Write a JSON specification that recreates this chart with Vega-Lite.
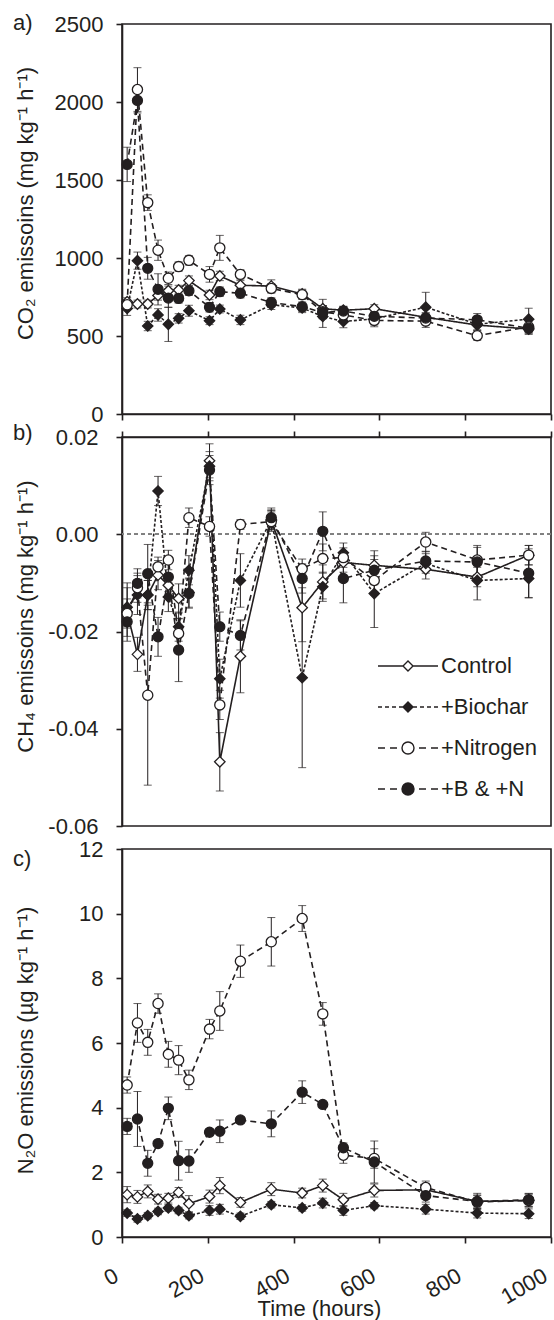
{
  "$schema": "https://vega.github.io/schema/vega-lite/v6.json",
  "background": "white",
  "padding": {"left": 12, "top": 11, "right": 3, "bottom": 0},
  "bounds": "flush",
  "spacing": 23,
  "datasets": {
    "co2": [
      {"t":12,"s":"Control","v":720,"e":25},{"t":36,"s":"Control","v":705,"e":25},{"t":60,"s":"Control","v":705,"e":25},{"t":84,"s":"Control","v":760,"e":30},{"t":108,"s":"Control","v":790,"e":30},{"t":132,"s":"Control","v":795,"e":30},{"t":156,"s":"Control","v":855,"e":30},{"t":204,"s":"Control","v":763,"e":30},{"t":228,"s":"Control","v":885,"e":30},{"t":276,"s":"Control","v":825,"e":30},{"t":348,"s":"Control","v":820,"e":40},{"t":420,"s":"Control","v":770,"e":30},{"t":468,"s":"Control","v":675,"e":60},{"t":516,"s":"Control","v":665,"e":25},{"t":588,"s":"Control","v":675,"e":25},{"t":708,"s":"Control","v":620,"e":30},{"t":828,"s":"Control","v":570,"e":30},{"t":948,"s":"Control","v":545,"e":25},
      {"t":12,"s":"+Biochar","v":677,"e":45},{"t":36,"s":"+Biochar","v":983,"e":55},{"t":60,"s":"+Biochar","v":564,"e":30},{"t":84,"s":"+Biochar","v":635,"e":40},{"t":108,"s":"+Biochar","v":575,"e":110},{"t":132,"s":"+Biochar","v":613,"e":30},{"t":156,"s":"+Biochar","v":662,"e":35},{"t":204,"s":"+Biochar","v":598,"e":25},{"t":228,"s":"+Biochar","v":673,"e":25},{"t":276,"s":"+Biochar","v":603,"e":30},{"t":348,"s":"+Biochar","v":700,"e":30},{"t":420,"s":"+Biochar","v":680,"e":30},{"t":468,"s":"+Biochar","v":625,"e":70},{"t":516,"s":"+Biochar","v":593,"e":40},{"t":588,"s":"+Biochar","v":610,"e":40},{"t":708,"s":"+Biochar","v":685,"e":95},{"t":828,"s":"+Biochar","v":575,"e":40},{"t":948,"s":"+Biochar","v":608,"e":70},
      {"t":12,"s":"+Nitrogen","v":700,"e":30},{"t":36,"s":"+Nitrogen","v":2080,"e":140},{"t":60,"s":"+Nitrogen","v":1355,"e":50},{"t":84,"s":"+Nitrogen","v":1050,"e":65},{"t":108,"s":"+Nitrogen","v":870,"e":40},{"t":132,"s":"+Nitrogen","v":945,"e":30},{"t":156,"s":"+Nitrogen","v":985,"e":30},{"t":204,"s":"+Nitrogen","v":895,"e":50},{"t":228,"s":"+Nitrogen","v":1065,"e":80},{"t":276,"s":"+Nitrogen","v":895,"e":30},{"t":348,"s":"+Nitrogen","v":805,"e":30},{"t":420,"s":"+Nitrogen","v":765,"e":30},{"t":468,"s":"+Nitrogen","v":655,"e":40},{"t":516,"s":"+Nitrogen","v":635,"e":30},{"t":588,"s":"+Nitrogen","v":600,"e":40},{"t":708,"s":"+Nitrogen","v":595,"e":40},{"t":828,"s":"+Nitrogen","v":502,"e":30},{"t":948,"s":"+Nitrogen","v":558,"e":40},
      {"t":12,"s":"+B & +N","v":1600,"e":110},{"t":36,"s":"+B & +N","v":2010,"e":80},{"t":60,"s":"+B & +N","v":934,"e":70},{"t":84,"s":"+B & +N","v":799,"e":100},{"t":108,"s":"+B & +N","v":743,"e":60},{"t":132,"s":"+B & +N","v":741,"e":30},{"t":156,"s":"+B & +N","v":790,"e":30},{"t":204,"s":"+B & +N","v":684,"e":30},{"t":228,"s":"+B & +N","v":784,"e":30},{"t":276,"s":"+B & +N","v":774,"e":30},{"t":348,"s":"+B & +N","v":715,"e":30},{"t":420,"s":"+B & +N","v":688,"e":30},{"t":468,"s":"+B & +N","v":650,"e":40},{"t":516,"s":"+B & +N","v":660,"e":30},{"t":588,"s":"+B & +N","v":626,"e":30},{"t":708,"s":"+B & +N","v":615,"e":30},{"t":828,"s":"+B & +N","v":604,"e":40},{"t":948,"s":"+B & +N","v":550,"e":40}
    ],
    "ch4": [
      {"t":12,"s":"Control","v":-0.016,"e":0.006},{"t":36,"s":"Control","v":-0.0247,"e":0.0035},{"t":60,"s":"Control","v":-0.0125,"e":0.003},{"t":84,"s":"Control","v":-0.0084,"e":0.003},{"t":108,"s":"Control","v":-0.0105,"e":0.002},{"t":132,"s":"Control","v":-0.0132,"e":0.003},{"t":156,"s":"Control","v":-0.012,"e":0.003},{"t":204,"s":"Control","v":0.0151,"e":0.0035},{"t":228,"s":"Control","v":-0.0468,"e":0.006},{"t":276,"s":"Control","v":-0.0251,"e":0.0075},{"t":348,"s":"Control","v":0.0029,"e":0.002},{"t":420,"s":"Control","v":-0.0151,"e":0.007},{"t":468,"s":"Control","v":-0.0098,"e":0.0035},{"t":516,"s":"Control","v":-0.0058,"e":0.002},{"t":588,"s":"Control","v":-0.0064,"e":0.003},{"t":708,"s":"Control","v":-0.0072,"e":0.002},{"t":828,"s":"Control","v":-0.0088,"e":0.002},{"t":948,"s":"Control","v":-0.0043,"e":0.002},
      {"t":12,"s":"+Biochar","v":-0.015,"e":0.004},{"t":36,"s":"+Biochar","v":-0.0125,"e":0.004},{"t":60,"s":"+Biochar","v":-0.0125,"e":0.003},{"t":84,"s":"+Biochar","v":0.0089,"e":0.003},{"t":108,"s":"+Biochar","v":-0.0129,"e":0.003},{"t":132,"s":"+Biochar","v":-0.019,"e":0.003},{"t":156,"s":"+Biochar","v":-0.0074,"e":0.003},{"t":204,"s":"+Biochar","v":0.014,"e":0.003},{"t":228,"s":"+Biochar","v":-0.0297,"e":0.004},{"t":276,"s":"+Biochar","v":-0.0095,"e":0.0055},{"t":348,"s":"+Biochar","v":0.003,"e":0.002},{"t":420,"s":"+Biochar","v":-0.0295,"e":0.0185},{"t":468,"s":"+Biochar","v":-0.0108,"e":0.003},{"t":516,"s":"+Biochar","v":-0.0038,"e":0.002},{"t":588,"s":"+Biochar","v":-0.0122,"e":0.007},{"t":708,"s":"+Biochar","v":-0.006,"e":0.002},{"t":828,"s":"+Biochar","v":-0.0095,"e":0.004},{"t":948,"s":"+Biochar","v":-0.0091,"e":0.004},
      {"t":12,"s":"+Nitrogen","v":-0.0163,"e":0.003},{"t":36,"s":"+Nitrogen","v":-0.011,"e":0.003},{"t":60,"s":"+Nitrogen","v":-0.0331,"e":0.0185},{"t":84,"s":"+Nitrogen","v":-0.0067,"e":0.002},{"t":108,"s":"+Nitrogen","v":-0.0053,"e":0.002},{"t":132,"s":"+Nitrogen","v":-0.0204,"e":0.003},{"t":156,"s":"+Nitrogen","v":0.0034,"e":0.002},{"t":204,"s":"+Nitrogen","v":0.0016,"e":0.002},{"t":228,"s":"+Nitrogen","v":-0.0351,"e":0.003},{"t":276,"s":"+Nitrogen","v":0.002,"e":0.001},{"t":348,"s":"+Nitrogen","v":0.0026,"e":0.002},{"t":420,"s":"+Nitrogen","v":-0.0071,"e":0.002},{"t":468,"s":"+Nitrogen","v":-0.005,"e":0.003},{"t":516,"s":"+Nitrogen","v":-0.0048,"e":0.002},{"t":588,"s":"+Nitrogen","v":-0.0095,"e":0.003},{"t":708,"s":"+Nitrogen","v":-0.0016,"e":0.002},{"t":828,"s":"+Nitrogen","v":-0.0053,"e":0.003},{"t":948,"s":"+Nitrogen","v":-0.0043,"e":0.002},
      {"t":12,"s":"+B & +N","v":-0.018,"e":0.003},{"t":36,"s":"+B & +N","v":-0.0101,"e":0.003},{"t":60,"s":"+B & +N","v":-0.0081,"e":0.006},{"t":84,"s":"+B & +N","v":-0.0211,"e":0.004},{"t":108,"s":"+B & +N","v":-0.0088,"e":0.003},{"t":132,"s":"+B & +N","v":-0.0238,"e":0.0065},{"t":156,"s":"+B & +N","v":-0.0122,"e":0.003},{"t":204,"s":"+B & +N","v":0.0132,"e":0.003},{"t":228,"s":"+B & +N","v":-0.019,"e":0.003},{"t":276,"s":"+B & +N","v":-0.0208,"e":0.003},{"t":348,"s":"+B & +N","v":0.0034,"e":0.002},{"t":420,"s":"+B & +N","v":-0.0091,"e":0.003},{"t":468,"s":"+B & +N","v":0.0006,"e":0.004},{"t":516,"s":"+B & +N","v":-0.0091,"e":0.005},{"t":588,"s":"+B & +N","v":-0.0074,"e":0.003},{"t":708,"s":"+B & +N","v":-0.0055,"e":0.002},{"t":828,"s":"+B & +N","v":-0.0057,"e":0.003},{"t":948,"s":"+B & +N","v":-0.008,"e":0.005}
    ],
    "n2o": [
      {"t":12,"s":"Control","v":1.31,"e":0.25},{"t":36,"s":"Control","v":1.24,"e":0.2},{"t":60,"s":"Control","v":1.41,"e":0.2},{"t":84,"s":"Control","v":1.17,"e":0.15},{"t":108,"s":"Control","v":1.2,"e":0.15},{"t":132,"s":"Control","v":1.38,"e":0.15},{"t":156,"s":"Control","v":1.03,"e":0.25},{"t":204,"s":"Control","v":1.25,"e":0.2},{"t":228,"s":"Control","v":1.59,"e":0.25},{"t":276,"s":"Control","v":1.07,"e":0.15},{"t":348,"s":"Control","v":1.48,"e":0.2},{"t":420,"s":"Control","v":1.36,"e":0.15},{"t":468,"s":"Control","v":1.59,"e":0.2},{"t":516,"s":"Control","v":1.15,"e":0.2},{"t":588,"s":"Control","v":1.44,"e":0.2},{"t":708,"s":"Control","v":1.46,"e":0.2},{"t":828,"s":"Control","v":1.1,"e":0.2},{"t":948,"s":"Control","v":1.13,"e":0.2},
      {"t":12,"s":"+Biochar","v":0.74,"e":0.1},{"t":36,"s":"+Biochar","v":0.56,"e":0.1},{"t":60,"s":"+Biochar","v":0.66,"e":0.1},{"t":84,"s":"+Biochar","v":0.79,"e":0.1},{"t":108,"s":"+Biochar","v":0.9,"e":0.1},{"t":132,"s":"+Biochar","v":0.82,"e":0.1},{"t":156,"s":"+Biochar","v":0.66,"e":0.1},{"t":204,"s":"+Biochar","v":0.82,"e":0.15},{"t":228,"s":"+Biochar","v":0.86,"e":0.15},{"t":276,"s":"+Biochar","v":0.64,"e":0.1},{"t":348,"s":"+Biochar","v":1.0,"e":0.1},{"t":420,"s":"+Biochar","v":0.9,"e":0.1},{"t":468,"s":"+Biochar","v":1.05,"e":0.15},{"t":516,"s":"+Biochar","v":0.82,"e":0.15},{"t":588,"s":"+Biochar","v":0.97,"e":0.1},{"t":708,"s":"+Biochar","v":0.86,"e":0.15},{"t":828,"s":"+Biochar","v":0.74,"e":0.15},{"t":948,"s":"+Biochar","v":0.72,"e":0.15},
      {"t":12,"s":"+Nitrogen","v":4.7,"e":0.25},{"t":36,"s":"+Nitrogen","v":6.62,"e":0.6},{"t":60,"s":"+Nitrogen","v":6.02,"e":0.4},{"t":84,"s":"+Nitrogen","v":7.22,"e":0.3},{"t":108,"s":"+Nitrogen","v":5.65,"e":0.4},{"t":132,"s":"+Nitrogen","v":5.47,"e":0.45},{"t":156,"s":"+Nitrogen","v":4.86,"e":0.3},{"t":204,"s":"+Nitrogen","v":6.43,"e":0.3},{"t":228,"s":"+Nitrogen","v":6.99,"e":0.6},{"t":276,"s":"+Nitrogen","v":8.53,"e":0.5},{"t":348,"s":"+Nitrogen","v":9.13,"e":0.75},{"t":420,"s":"+Nitrogen","v":9.85,"e":0.4},{"t":468,"s":"+Nitrogen","v":6.9,"e":0.35},{"t":516,"s":"+Nitrogen","v":2.53,"e":0.25},{"t":588,"s":"+Nitrogen","v":2.43,"e":0.3},{"t":708,"s":"+Nitrogen","v":1.53,"e":0.2},{"t":828,"s":"+Nitrogen","v":1.08,"e":0.2},{"t":948,"s":"+Nitrogen","v":1.13,"e":0.2},
      {"t":12,"s":"+B & +N","v":3.42,"e":0.25},{"t":36,"s":"+B & +N","v":3.65,"e":0.85},{"t":60,"s":"+B & +N","v":2.28,"e":0.4},{"t":84,"s":"+B & +N","v":2.89,"e":0.05},{"t":108,"s":"+B & +N","v":3.98,"e":0.35},{"t":132,"s":"+B & +N","v":2.36,"e":0.6},{"t":156,"s":"+B & +N","v":2.35,"e":0.35},{"t":204,"s":"+B & +N","v":3.24,"e":0.1},{"t":228,"s":"+B & +N","v":3.27,"e":0.35},{"t":276,"s":"+B & +N","v":3.62,"e":0.1},{"t":348,"s":"+B & +N","v":3.5,"e":0.4},{"t":420,"s":"+B & +N","v":4.48,"e":0.35},{"t":468,"s":"+B & +N","v":4.1,"e":0.05},{"t":516,"s":"+B & +N","v":2.76,"e":0.15},{"t":588,"s":"+B & +N","v":2.32,"e":0.65},{"t":708,"s":"+B & +N","v":1.28,"e":0.2},{"t":828,"s":"+B & +N","v":1.1,"e":0.25},{"t":948,"s":"+B & +N","v":1.15,"e":0.2}
    ]
  },
  "vconcat": [
    {
      "width": 429, "height": 390,
      "data": {"name": "co2"},
      "title": {"text": "a)", "anchor": "start", "frame": "group", "align": "left", "baseline": "alphabetic", "offset": 0, "dx": -109, "dy": 39, "fontSize": 22, "fontWeight": "normal", "font": "Liberation Sans", "color": "#231f20"},
      "layer": [
        {"mark": {"type": "errorbar", "ticks": {"size": 8, "thickness": 1}, "thickness": 1, "color": "#231f20"},
         "encoding": {"x": {"field": "t", "type": "quantitative", "title": null}, "y": {"field": "v", "type": "quantitative", "title": "CO₂ emissoins (mg kg⁻¹ h⁻¹)"}, "yError": {"field": "e"}}},
        {"mark": {"type": "line", "color": "#231f20", "strokeWidth": 1.6},
         "encoding": {
           "x": {"field": "t", "type": "quantitative", "title": null, "scale": {"domain": [0, 1000], "nice": false}, "axis": {"orient": "bottom", "values": [0,200,400,600,800,1000], "labels": false}},
           "y": {"field": "v", "type": "quantitative", "title": "CO₂ emissoins (mg kg⁻¹ h⁻¹)", "scale": {"domain": [0, 2500], "nice": false}, "axis": {"values": [0,500,1000,1500,2000,2500], "format": "d", "labelPadding": 13, "titleX": -90, "titleY": 179, "titleAngle": 270, "titleBaseline": "alphabetic", "titleAlign": "center"}},
           "detail": {"field": "s"},
           "strokeDash": {"field": "s", "type": "nominal", "scale": {"domain": ["Control","+Biochar","+Nitrogen","+B & +N"], "range": [[1,0],[3,2],[6,4],[6,4]]}, "legend": null}
         }},
        {"mark": {"type": "point", "filled": true, "stroke": "#231f20", "strokeWidth": 1.3, "opacity": 1},
         "encoding": {
           "x": {"field": "t", "type": "quantitative", "title": null},
           "y": {"field": "v", "type": "quantitative", "title": "CO₂ emissoins (mg kg⁻¹ h⁻¹)"},
           "shape": {"field": "s", "type": "nominal", "scale": {"domain": ["Control","+Biochar","+Nitrogen","+B & +N"], "range": ["diamond","diamond","circle","circle"]}, "legend": null},
           "fill": {"field": "s", "type": "nominal", "scale": {"domain": ["Control","+Biochar","+Nitrogen","+B & +N"], "range": ["white","#231f20","white","#231f20"]}, "legend": null},
           "size": {"field": "s", "type": "nominal", "scale": {"domain": ["Control","+Biochar","+Nitrogen","+B & +N"], "range": [110,100,150,140]}, "legend": null}
         }}
      ]
    },
    {
      "width": 429, "height": 389,
      "data": {"name": "ch4"},
      "title": {"text": "b)", "anchor": "start", "frame": "group", "align": "left", "baseline": "alphabetic", "offset": 0, "dx": -109, "dy": 36, "fontSize": 22, "fontWeight": "normal", "font": "Liberation Sans", "color": "#231f20"},
      "resolve": {"scale": {"shape": "independent", "fill": "independent", "size": "independent", "strokeDash": "independent"}},
      "layer": [
        {"mark": {"type": "rule", "color": "#808080", "strokeDash": [4,3], "strokeWidth": 1},
         "encoding": {"y": {"datum": 0}}},
        {"mark": {"type": "errorbar", "ticks": {"size": 8, "thickness": 1}, "thickness": 1, "color": "#231f20"},
         "encoding": {"x": {"field": "t", "type": "quantitative", "title": null}, "y": {"field": "v", "type": "quantitative", "title": "CH₄ emissoins (mg kg⁻¹ h⁻¹)"}, "yError": {"field": "e"}}},
        {"mark": {"type": "line", "color": "#231f20", "strokeWidth": 1.6},
         "encoding": {
           "x": {"field": "t", "type": "quantitative", "title": null, "scale": {"domain": [0, 1000], "nice": false}, "axis": {"orient": "top", "values": [0,200,400,600,800,1000], "labels": false}},
           "y": {"field": "v", "type": "quantitative", "title": "CH₄ emissoins (mg kg⁻¹ h⁻¹)", "scale": {"domain": [-0.06, 0.02], "nice": false}, "axis": {"values": [-0.06,-0.04,-0.02,0,0.02], "labelExpr": "replace(format(datum.value, '.2f'), '\u2212', '-')", "labelPadding": 18, "titleX": -90, "titleY": 179, "titleAngle": 270, "titleBaseline": "alphabetic", "titleAlign": "center"}},
           "detail": {"field": "s"},
           "strokeDash": {"field": "s", "type": "nominal", "scale": {"domain": ["Control","+Biochar","+Nitrogen","+B & +N"], "range": [[1,0],[3,2],[6,4],[6,4]]}, "legend": null}
         }},
        {"mark": {"type": "point", "filled": true, "stroke": "#231f20", "strokeWidth": 1.3, "opacity": 1},
         "encoding": {
           "x": {"field": "t", "type": "quantitative", "title": null},
           "y": {"field": "v", "type": "quantitative", "title": "CH₄ emissoins (mg kg⁻¹ h⁻¹)"},
           "shape": {"field": "s", "type": "nominal", "scale": {"domain": ["Control","+Biochar","+Nitrogen","+B & +N"], "range": ["diamond","diamond","circle","circle"]}, "legend": null},
           "fill": {"field": "s", "type": "nominal", "scale": {"domain": ["Control","+Biochar","+Nitrogen","+B & +N"], "range": ["white","#231f20","white","#231f20"]}, "legend": null},
           "size": {"field": "s", "type": "nominal", "scale": {"domain": ["Control","+Biochar","+Nitrogen","+B & +N"], "range": [110,100,150,140]}, "legend": null}
         }},
        {"transform": [{"filter": "datum.t < 0"}],
         "mark": {"type": "point", "filled": true, "stroke": "#231f20", "strokeWidth": 1.4, "opacity": 1, "size": 100},
         "encoding": {
           "x": {"field": "t", "type": "quantitative", "title": null},
           "y": {"field": "v", "type": "quantitative", "title": "CH₄ emissoins (mg kg⁻¹ h⁻¹)"},
           "shape": {"field": "s", "type": "nominal", "scale": {"domain": ["Control","+Biochar","+Nitrogen","+B & +N"], "range": [
               "M-6,0L-1,0M1,0L6,0M-1,0L0,-1L1,0L0,1Z",
               "M-6,0L-5.2,0M-4.6,0L-3.8,0M-3.2,0L-2.4,0M-1.8,0L-1,0M1,0L1.8,0M2.4,0L3.2,0M3.8,0L4.6,0M5.2,0L6,0M-1,0L0,-1L1,0L0,1Z",
               "M-6,0L-4.6,0M-3.6,0L-2.2,0M2.2,0L3.6,0M4.6,0L6,0M1.2,0A1.2,1.2,0,1,1,-1.2,0A1.2,1.2,0,1,1,1.2,0Z",
               "M-6,0L-4.6,0M-3.6,0L-2.2,0M2.2,0L3.6,0M4.6,0L6,0M1.2,0A1.2,1.2,0,1,1,-1.2,0A1.2,1.2,0,1,1,1.2,0Z"]},
             "legend": {"orient": "none", "legendX": 275, "legendY": 218, "title": null, "padding": 0, "rowPadding": 19, "labelOffset": 22, "labelFont": "Liberation Sans", "labelFontSize": 22, "labelColor": "#231f20", "symbolSize": 100, "symbolStrokeWidth": 1.4, "symbolOpacity": 1}},
           "fill": {"field": "s", "type": "nominal", "scale": {"domain": ["Control","+Biochar","+Nitrogen","+B & +N"], "range": ["white","#231f20","white","#231f20"]},
             "legend": {"orient": "none", "legendX": 275, "legendY": 218, "title": null, "padding": 0, "rowPadding": 19, "labelOffset": 22, "labelFont": "Liberation Sans", "labelFontSize": 22, "labelColor": "#231f20", "symbolSize": 100, "symbolStrokeWidth": 1.4, "symbolOpacity": 1}}
         }}
      ]
    },
    {
      "width": 429, "height": 388,
      "data": {"name": "n2o"},
      "title": {"text": "c)", "anchor": "start", "frame": "group", "align": "left", "baseline": "alphabetic", "offset": 0, "dx": -109, "dy": 50, "fontSize": 22, "fontWeight": "normal", "font": "Liberation Sans", "color": "#231f20"},
      "layer": [
        {"mark": {"type": "errorbar", "ticks": {"size": 8, "thickness": 1}, "thickness": 1, "color": "#231f20"},
         "encoding": {"x": {"field": "t", "type": "quantitative", "title": "Time (hours)"}, "y": {"field": "v", "type": "quantitative", "title": "N₂O emissions (µg kg⁻¹ h⁻¹)"}, "yError": {"field": "e"}}},
        {"mark": {"type": "line", "color": "#231f20", "strokeWidth": 1.6},
         "encoding": {
           "x": {"field": "t", "type": "quantitative", "title": "Time (hours)", "scale": {"domain": [0, 1000], "nice": false}, "axis": {"orient": "bottom", "values": [0,200,400,600,800,1000], "format": "d", "labelAngle": -30, "labelAlign": "right", "labelBaseline": "bottom", "labelPadding": 41, "titleX": 197, "titleY": 78, "titleBaseline": "alphabetic", "titleAlign": "center"}},
           "y": {"field": "v", "type": "quantitative", "title": "N₂O emissions (µg kg⁻¹ h⁻¹)", "scale": {"domain": [0, 12], "nice": false}, "axis": {"values": [0,2,4,6,8,10,12], "labelPadding": 13, "titleX": -90, "titleY": 191, "titleAngle": 270, "titleBaseline": "alphabetic", "titleAlign": "center"}},
           "detail": {"field": "s"},
           "strokeDash": {"field": "s", "type": "nominal", "scale": {"domain": ["Control","+Biochar","+Nitrogen","+B & +N"], "range": [[1,0],[3,2],[6,4],[6,4]]}, "legend": null}
         }},
        {"mark": {"type": "point", "filled": true, "stroke": "#231f20", "strokeWidth": 1.3, "opacity": 1},
         "encoding": {
           "x": {"field": "t", "type": "quantitative", "title": "Time (hours)"},
           "y": {"field": "v", "type": "quantitative", "title": "N₂O emissions (µg kg⁻¹ h⁻¹)"},
           "shape": {"field": "s", "type": "nominal", "scale": {"domain": ["Control","+Biochar","+Nitrogen","+B & +N"], "range": ["diamond","diamond","circle","circle"]}, "legend": null},
           "fill": {"field": "s", "type": "nominal", "scale": {"domain": ["Control","+Biochar","+Nitrogen","+B & +N"], "range": ["white","#231f20","white","#231f20"]}, "legend": null},
           "size": {"field": "s", "type": "nominal", "scale": {"domain": ["Control","+Biochar","+Nitrogen","+B & +N"], "range": [110,100,150,140]}, "legend": null}
         }}
      ]
    }
  ],
  "resolve": {
    "scale": {"x": "independent", "y": "independent", "fill": "independent", "shape": "independent", "strokeDash": "independent", "size": "independent"},
    "legend": {"fill": "independent", "shape": "independent", "strokeDash": "independent", "size": "independent"}
  },
  "config": {
    "font": "Liberation Sans",
    "view": {"stroke": "#231f20", "strokeWidth": 1.6},
    "axis": {"domainColor": "#231f20", "domainWidth": 1.6, "tickColor": "#231f20", "tickWidth": 1.6, "tickSize": 6, "labelFont": "Liberation Sans", "labelFontSize": 22, "labelColor": "#231f20", "titleFont": "Liberation Sans", "titleFontSize": 22, "titleFontWeight": "normal", "titleColor": "#231f20", "grid": false, "labelFlush": false, "labelOverlap": false, "labelBound": false}
  }
}
